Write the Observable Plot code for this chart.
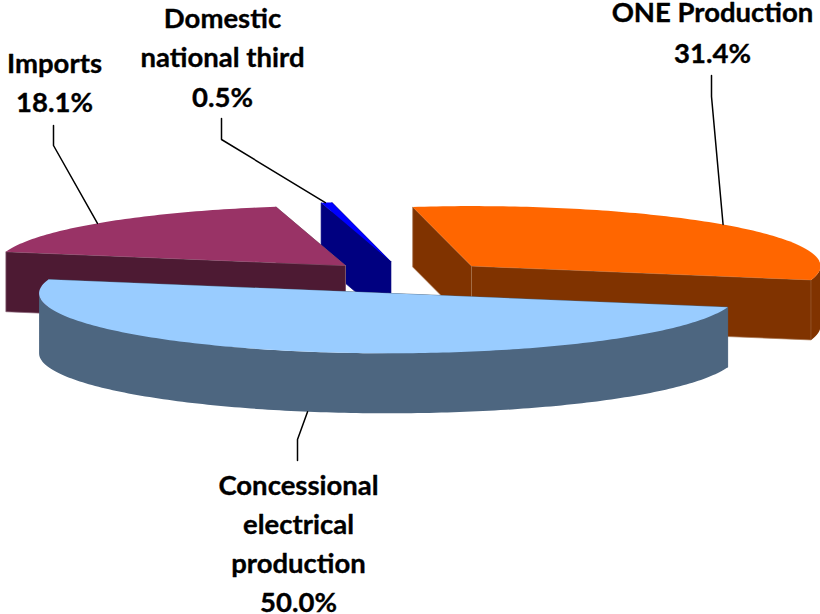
<!DOCTYPE html>
<html>
<head>
<meta charset="utf-8">
<style>html,body{margin:0;padding:0;background:#fff}svg{display:block}</style>
<script src="https://cdn.jsdelivr.net/npm/d3@7"></script>
<script src="https://cdn.jsdelivr.net/npm/@observablehq/plot@0.6"></script>
</head>
<body>
<div id="chart"></div>
<script>
// Data, clockwise in pie order
const names = ["ONE Production", "Concessional\nelectrical\nproduction", "Imports", "Domestic\nnational third"];
const shares = [31.4, 50.0, 18.1, 0.5];

// Styles
const topColors = ["#FF6600", "#99CCFF", "#993366", "#0000FF"];
const sideColors = ["#803300", "#4D6680", "#4D1A33", "#000080"];
const edgeColors = ["#A8744D", "#4D6680", "#8A6478", "#000080"];
const paintOrder = [3, 2, 0, 1];

// Pie layout in the tilted view
const W = 820, H = 614;
const cx = 406.5, cy = 276, rx = 349, ry = 60, depth = 60, explode = 0.2535;
const firstAngle = -9.7;
const nudgeX = [0, 1.5, 0, 0];
const nudgeY = [0, 2, 0, 0];

// Leader start offset along the rim (degrees), elbows and label anchors, by slice
const leaderOffset = [-0.7, 0, -1.2, -0.2];
const elbows = [[[711, 96], [711, 75]], [[297, 439], [297, 460]], [[53, 145], [53, 125]], [[221, 139], [221, 118]]];
const labelX = [712, 298, 54, 222];
const labelBaseline = [62, 611.5, 111, 106];
const lineGap = [41, 39, 39, 39.5];

const rad = (d) => (d * Math.PI) / 180;
const arcs = d3.pie().sort(null).startAngle(rad(firstAngle)).endAngle(rad(firstAngle + 360))(shares);

const slices = arcs.map((a, i) => {
  const mid = (a.startAngle + a.endAngle) / 2;
  const ax = cx + explode * rx * Math.sin(mid) + nudgeX[i];
  const ay = cy - explode * ry * Math.cos(mid) + nudgeY[i];
  const at = (t, dz = 0) => [ax + rx * Math.sin(t), ay - ry * Math.cos(t) + dz];
  const sweep = (t0, t1) => {
    const n = Math.max(2, Math.ceil(((t1 - t0) * 180) / Math.PI));
    return d3.range(n + 1).map((k) => t0 + ((t1 - t0) * k) / n);
  };
  return {i, a, mid, ax, ay, at, sweep};
});

const poly = (pts, fill, stroke) =>
  Plot.line([...pts, pts[0]], {x: (p) => p[0], y: (p) => p[1], fill, stroke: stroke ?? "none", strokeWidth: stroke ? 0.7 : 0, curve: "linear"});

const marks = [];
for (const idx of paintOrder) {
  const s = slices[idx];
  const {a, ax, ay, at, sweep} = s;
  const side = sideColors[idx], edge = edgeColors[idx];
  const radial = (t) => poly([[ax, ay], at(t), at(t, depth), [ax, ay + depth]], side, edge);
  // back radial face first, then the one nearer the viewer
  marks.push(radial(a.endAngle), radial(a.startAngle));
  // outer wall: only the part of the rim on the viewer's side
  const t0 = Math.max(a.startAngle, rad(90)), t1 = Math.min(a.endAngle, rad(270));
  if (t1 > t0) {
    const ts = sweep(t0, t1);
    marks.push(poly([...ts.map((t) => at(t)), ...ts.slice().reverse().map((t) => at(t, depth))], side));
  }
  // top surface
  marks.push(poly([[ax, ay], ...sweep(a.startAngle, a.endAngle).map((t) => at(t))], topColors[idx]));
}

// Leader lines start on the rim near each slice's middle angle
slices.forEach((s) => {
  const front = Math.cos(s.mid) < 0;
  const start = s.at(s.mid + rad(leaderOffset[s.i]), front ? depth : 0);
  const pts = [start, ...elbows[s.i]];
  marks.push(Plot.line(pts, {x: (p) => p[0], y: (p) => p[1], stroke: "#000", strokeWidth: 1.5, curve: "linear"}));
});

const fontSize = 27.5;
names.forEach((n, i) => {
  marks.push(Plot.text([`${n}\n${shares[i].toFixed(1)}%`], {
    x: labelX[i], y: labelBaseline[i], text: (d) => d, textAnchor: "middle", lineAnchor: "bottom",
    lineHeight: lineGap[i] / fontSize, fontFamily: "Lato", fontWeight: 700, fontSize,
    fill: "#000", stroke: "#000", strokeWidth: 0.35
  }));
});

const chart = Plot.plot({
  width: W, height: H, margin: 0,
  x: {domain: [0, W], range: [0, W], axis: null},
  y: {domain: [0, H], range: [0, H], axis: null},
  style: {background: "#fff", overflow: "visible"},
  marks
});
document.getElementById("chart").append(chart);
</script>
</body>
</html>
